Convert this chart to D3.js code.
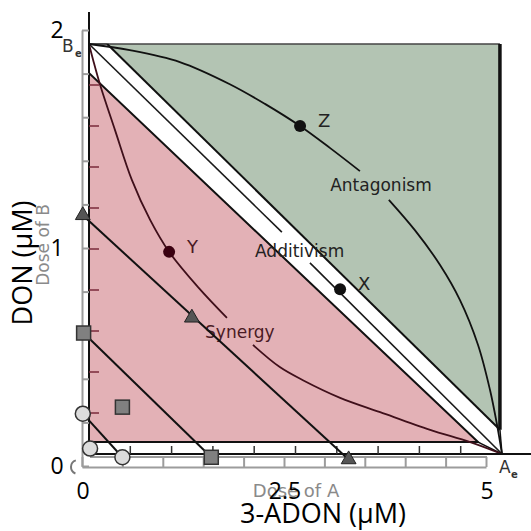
<!DOCTYPE html>
<html>
<head>
<meta charset="utf-8">
<script src="https://cdn.jsdelivr.net/npm/d3@7"></script>
<style>
  html, body { margin: 0; padding: 0; background: #fff; }
  svg { display: block; }
</style>
</head>
<body>
<svg id="chart" width="531" height="531"></svg>
<script>
// outer axes (µM)
const xTicks = [0, 2.5, 5];
const yTicks = [0, 1, 2];
const xMinor = [0, 0.5, 1, 1.5, 2, 2.5, 3, 3.5, 4, 4.5, 5];
const yMinor = [0, 0.2, 0.4, 0.6, 0.8, 1, 1.2, 1.4, 1.6, 1.8, 2];

// scanned isobologram, in fractions of the equieffective doses A_e / B_e
const scanTicks = [0.1, 0.2, 0.3, 0.4, 0.5, 0.6, 0.7, 0.8, 0.9];
const greenRegion = [[0.044, 1], [0.995, 1], [0.995, 0.059]];
const pinkRegion = [[0, 0.929], [0, 0.029], [0.942, 0.029]];
const bandLinks = [
  [[0, 1], [0.044, 1]],
  [[0.995, 0.059], [1, 0]],
  [[0.942, 0.029], [1, 0]],
];
const additiveLine = [
  [[0, 1], [0.467, 0.541]],
  [[0.535, 0.466], [1, 0]],
];
const antagonismCurve = [
  [[0, 1], [0.099, 0.985], [0.22, 0.956], [0.341, 0.902], [0.426, 0.854], [0.511, 0.8], [0.584, 0.746], [0.656, 0.69]],
  [[0.726, 0.62], [0.789, 0.546], [0.85, 0.461], [0.898, 0.376], [0.942, 0.266], [0.971, 0.156], [0.988, 0.071], [1, 0]],
];
const synergyCurve = [
  [[0, 1], [0.01, 0.961], [0.027, 0.9], [0.063, 0.79], [0.104, 0.668], [0.148, 0.571], [0.194, 0.493], [0.264, 0.407], [0.334, 0.332]],
  [[0.397, 0.266], [0.462, 0.212], [0.518, 0.18], [0.608, 0.137], [0.705, 0.102], [0.826, 0.059], [0.923, 0.029], [1, 0]],
];
const isoPoints = [
  { name: "X", u: 0.608, v: 0.402 },
  { name: "Y", u: 0.194, v: 0.493 },
  { name: "Z", u: 0.511, v: 0.8 },
];
const regionLabels = [
  { text: "Antagonism", u: 0.584, v: 0.641 },
  { text: "Additivism", u: 0.402, v: 0.48 },
  { text: "Synergy", u: 0.281, v: 0.283 },
];

// measured combinations (µM): 3-ADON, DON
const triangles = [[0.01, 1.15], [1.36, 0.68], [3.3, 0.03]];
const squares = [[0.02, 0.61], [0.5, 0.27], [1.6, 0.04]];
const circles = [[0.01, 0.24], [0.1, 0.08], [0.5, 0.04]];

const svg = d3.select("#chart");

const x = d3.scaleLinear().domain([0, 5]).range([82, 486]);
const y = d3.scaleLinear().domain([0, 2]).range([466, 30]);
const sx = d3.scaleLinear().domain([0, 1]).range([89, 502]);
const sy = d3.scaleLinear().domain([0, 1]).range([454, 44]);

const scanLine = d3.line().x((d) => sx(d[0])).y((d) => sy(d[1]));
const smooth = d3.line().x((d) => sx(d[0])).y((d) => sy(d[1])).curve(d3.curveCatmullRom);

const scan = svg.append("g");

scan.append("path")
  .attr("d", scanLine(greenRegion) + "Z")
  .attr("fill", "#b3c4b3")
  .attr("stroke", "none");

// green edges: thin top, heavy right side, diagonal
scan.append("path")
  .attr("d", scanLine([greenRegion[0], greenRegion[1]]))
  .attr("stroke", "#444").attr("stroke-width", 1.5).attr("fill", "none");
scan.append("path")
  .attr("d", scanLine([greenRegion[1], greenRegion[2]]))
  .attr("stroke", "#111").attr("stroke-width", 3.5).attr("fill", "none");
scan.append("path")
  .attr("d", scanLine([greenRegion[0], greenRegion[2]]))
  .attr("stroke", "#111").attr("stroke-width", 2).attr("fill", "none");

scan.append("path")
  .attr("d", scanLine(pinkRegion) + "Z")
  .attr("fill", "#e3b1b6")
  .attr("stroke", "#111")
  .attr("stroke-width", 2);

bandLinks.forEach((seg) => {
  scan.append("path")
    .attr("d", scanLine(seg))
    .attr("fill", "none")
    .attr("stroke", "#111")
    .attr("stroke-width", 1.5);
});

additiveLine.forEach((seg) => {
  scan.append("path")
    .attr("d", scanLine(seg))
    .attr("fill", "none")
    .attr("stroke", "#1a1a1a")
    .attr("stroke-width", 1.6);
});

antagonismCurve.forEach((seg) => {
  scan.append("path")
    .attr("d", smooth(seg))
    .attr("fill", "none")
    .attr("stroke", "#111")
    .attr("stroke-width", 1.8);
});

synergyCurve.forEach((seg) => {
  scan.append("path")
    .attr("d", smooth(seg))
    .attr("fill", "none")
    .attr("stroke", "#3f0f1a")
    .attr("stroke-width", 1.8);
});

// scan axes
scan.append("line")
  .attr("x1", sx(0)).attr("x2", sx(0))
  .attr("y1", 12).attr("y2", sy(0) + 1)
  .attr("stroke", "#111").attr("stroke-width", 2);
scan.append("line")
  .attr("x1", sx(0)).attr("x2", 531)
  .attr("y1", sy(0)).attr("y2", sy(0))
  .attr("stroke", "#111").attr("stroke-width", 2);

scan.selectAll(".sxt")
  .data(scanTicks)
  .enter()
  .append("line")
  .attr("x1", (d) => sx(d)).attr("x2", (d) => sx(d))
  .attr("y1", sy(0)).attr("y2", sy(0) - 8)
  .attr("stroke", "#333").attr("stroke-width", 1.5);

scan.selectAll(".syt")
  .data(scanTicks)
  .enter()
  .append("line")
  .attr("x1", sx(0)).attr("x2", sx(0) + 10)
  .attr("y1", (d) => sy(d)).attr("y2", (d) => sy(d))
  .attr("stroke", "#7a2a3a").attr("stroke-width", 1.5);

scan.selectAll(".iso")
  .data(isoPoints)
  .enter()
  .append("circle")
  .attr("cx", (d) => sx(d.u))
  .attr("cy", (d) => sy(d.v))
  .attr("r", 6)
  .attr("fill", (d) => (d.name === "Y" ? "#3a0010" : "#111"));

scan.selectAll(".isoLabel")
  .data(isoPoints)
  .enter()
  .append("text")
  .attr("x", (d) => sx(d.u) + 18)
  .attr("y", (d) => sy(d.v) + 1)
  .style("font-family", "DejaVu Sans, sans-serif")
  .style("font-size", "18px")
  .style("fill", (d) => (d.name === "Y" ? "#4a1a24" : "#222"))
  .text((d) => d.name);

scan.selectAll(".regionLabel")
  .data(regionLabels)
  .enter()
  .append("text")
  .attr("x", (d) => sx(d.u))
  .attr("y", (d) => sy(d.v))
  .style("font-family", "DejaVu Sans, sans-serif")
  .style("font-size", "17px")
  .style("fill", (d) => (d.text === "Synergy" ? "#4a1a24" : "#222"))
  .text((d) => d.text);

scan.append("text")
  .attr("x", 62).attr("y", 52)
  .style("font-family", "DejaVu Sans, sans-serif")
  .style("font-size", "17px")
  .style("fill", "#333")
  .text("B");
scan.append("text")
  .attr("x", 75).attr("y", 57)
  .style("font-family", "DejaVu Sans, sans-serif")
  .style("font-size", "10px")
  .style("font-weight", "bold")
  .style("fill", "#333")
  .text("e");
scan.append("text")
  .attr("x", 499).attr("y", 473)
  .style("font-family", "DejaVu Sans, sans-serif")
  .style("font-size", "17px")
  .style("fill", "#333")
  .text("A");
scan.append("text")
  .attr("x", 511).attr("y", 478)
  .style("font-family", "DejaVu Sans, sans-serif")
  .style("font-size", "10px")
  .style("font-weight", "bold")
  .style("fill", "#333")
  .text("e");

scan.append("text")
  .attr("x", 296).attr("y", 497)
  .attr("text-anchor", "middle")
  .style("font-family", "DejaVu Sans, sans-serif")
  .style("font-size", "18px")
  .style("fill", "#8a8a8a")
  .text("Dose of A");
scan.append("text")
  .attr("transform", "translate(49,245) rotate(-90)")
  .attr("text-anchor", "middle")
  .style("font-family", "DejaVu Sans, sans-serif")
  .style("font-size", "17px")
  .style("fill", "#8a8a8a")
  .text("Dose of B");

// overlay axes (grey brackets)
const grey = "#9c9c9c";
const ax = svg.append("g");

ax.append("g")
  .attr("transform", `translate(${x(0)},0)`)
  .call(d3.axisLeft(y).tickValues(yMinor).tickSizeInner(-7).tickSizeOuter(0).tickFormat(""))
  .call((g) => g.selectAll("line, path").attr("stroke", grey).attr("stroke-width", 2));

ax.append("g")
  .attr("transform", `translate(0,${y(0) + 1})`)
  .call(d3.axisTop(x).tickValues(xMinor).tickSizeInner(10).tickSizeOuter(0).tickFormat(""))
  .call((g) => g.selectAll("line, path").attr("stroke", grey).attr("stroke-width", 2));

ax.append("line")
  .attr("x1", sx(0) + 1).attr("x2", x(5) + 1)
  .attr("y1", y(0) - 9).attr("y2", y(0) - 9)
  .attr("stroke", grey).attr("stroke-width", 2);

ax.append("path")
  .attr("transform", `translate(${x(0) - 4},${y(0) + 1})`)
  .attr("d", d3.arc()({ innerRadius: 6, outerRadius: 8, startAngle: Math.PI * 1.12, endAngle: Math.PI * 1.9 }))
  .attr("fill", "#777");

// measured combinations
const marks = svg.append("g");
const pt = d3.line().x((d) => x(d[0])).y((d) => y(d[1]));

[triangles, squares, circles].forEach((set) => {
  marks.append("path")
    .attr("d", pt([set[0], set[set.length - 1]]))
    .attr("stroke", "#111")
    .attr("stroke-width", 2)
    .attr("fill", "none");
});

marks.selectAll(".tri")
  .data(triangles)
  .enter()
  .append("path")
  .attr("transform", (d) => `translate(${x(d[0])},${y(d[1])})`)
  .attr("d", d3.symbol(d3.symbolTriangle, 95)())
  .attr("fill", "#555")
  .attr("stroke", "#222")
  .attr("stroke-width", 1);

marks.selectAll(".sq")
  .data(squares)
  .enter()
  .append("rect")
  .attr("x", (d) => x(d[0]) - 7)
  .attr("y", (d) => y(d[1]) - 7)
  .attr("width", 14)
  .attr("height", 14)
  .attr("fill", "#808080")
  .attr("stroke", "#333")
  .attr("stroke-width", 1.5);

marks.selectAll(".ci")
  .data(circles)
  .enter()
  .append("circle")
  .attr("cx", (d) => x(d[0]))
  .attr("cy", (d) => y(d[1]))
  .attr("r", 7.5)
  .attr("fill", "#dcdcdc")
  .attr("stroke", "#333")
  .attr("stroke-width", 1.5);

// tick labels and titles
const font = "Open Sans, sans-serif";

svg.selectAll(".xl")
  .data(xTicks)
  .enter()
  .append("text")
  .attr("x", (d) => x(d) + 1)
  .attr("y", 499)
  .attr("text-anchor", "middle")
  .style("font-family", font)
  .style("font-size", "23px")
  .style("fill", "#000")
  .text((d) => d3.format("~g")(d));

svg.selectAll(".yl")
  .data(yTicks)
  .enter()
  .append("text")
  .attr("x", 57)
  .attr("y", (d) => y(d) + 8)
  .attr("text-anchor", "middle")
  .style("font-family", font)
  .style("font-size", "23px")
  .style("fill", "#000")
  .text((d) => d3.format("~g")(d));

svg.append("text")
  .attr("x", 323)
  .attr("y", 523)
  .attr("text-anchor", "middle")
  .style("font-family", font)
  .style("font-size", "27px")
  .style("fill", "#000")
  .text("3-ADON (µM)");

svg.append("text")
  .attr("transform", "translate(32,263) rotate(-90)")
  .attr("text-anchor", "middle")
  .style("font-family", font)
  .style("font-size", "27px")
  .style("fill", "#000")
  .text("DON (µM)");
</script>
</body>
</html>
